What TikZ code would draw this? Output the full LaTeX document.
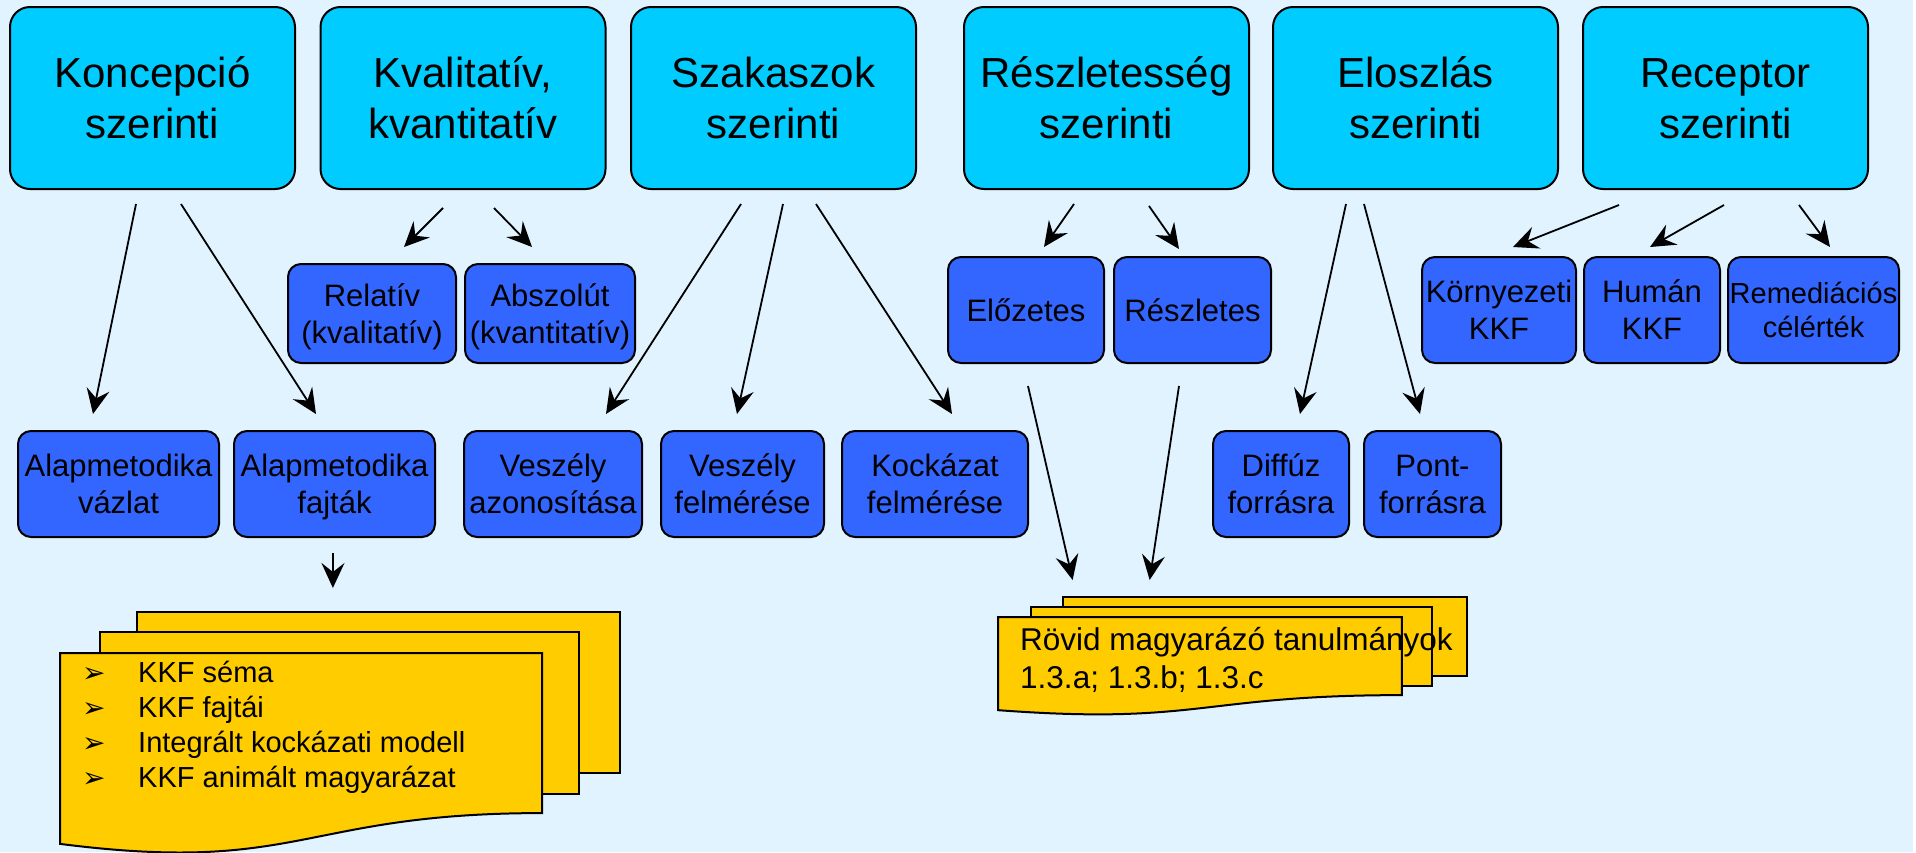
\documentclass[tikz,border=0pt]{standalone}
\usepackage{fontspec}
\setmainfont{Liberation Sans}
\newfontfamily\dejavu{DejaVu Sans}
\usetikzlibrary{arrows.meta,calc}
\definecolor{bgc}{RGB}{224,243,255}
\definecolor{topc}{RGB}{0,204,255}
\definecolor{midc}{RGB}{51,102,255}
\definecolor{docc}{RGB}{255,204,0}
\newcommand{\lbtwo}[2]{\raisebox{0pt}[\dimexpr0.716em+\baselineskip\relax][0pt]{\begin{tabular}[b]{@{}c@{}}#1\\#2\end{tabular}}}
\newcommand{\lbone}[1]{\raisebox{0pt}[0.716em][0pt]{#1}}
\newcommand{\bulx}{\makebox[56pt][l]{\dejavu\fontsize{28}{28}\selectfont ➢}}
\begin{document}
\begin{tikzpicture}[x=1pt,y=-1pt,
  topbox/.style={draw=black, line width=2pt, fill=topc, rounded corners=20pt,
    minimum width=285pt, minimum height=182pt, inner sep=0pt,
    font=\fontsize{42}{51}\selectfont},
  midbox/.style={draw=black, line width=2pt, fill=midc, rounded corners=13pt,
    minimum height=106pt, inner sep=0pt, font=\fontsize{31}{37}\selectfont},
  arr/.style={line width=1.8pt, -{Stealth[length=25pt,width=23pt,inset=9pt]}},
  docpage/.style={draw=black, line width=2pt, fill=docc}]
\useasboundingbox (0,0) rectangle (1916,852);
\fill[bgc] (0,0) rectangle (1913,852);

% top row
\node[topbox] (kon) at (152.5,98) {\lbtwo{Koncepció}{szerinti}};
\node[topbox] (kva) at (463,98) {\lbtwo{Kvalitatív,}{kvantitatív}};
\node[topbox] (sza) at (773.5,98) {\lbtwo{Szakaszok}{szerinti}};
\node[topbox] (res) at (1106.5,98) {\lbtwo{Részletesség}{szerinti}};
\node[topbox] (elo) at (1415.5,98) {\lbtwo{Eloszlás}{szerinti}};
\node[topbox] (rec) at (1725.5,98) {\lbtwo{Receptor}{szerinti}};

% middle row
\node[midbox, minimum width=168pt, minimum height=99pt] (rel) at (372,313.5) {\lbtwo{Relatív}{(kvalitatív)}};
\node[midbox, minimum width=170pt, minimum height=99pt] (abs) at (550,313.5) {\lbtwo{Abszolút}{(kvantitatív)}};
\node[midbox, minimum width=156pt] (ele) at (1026,310) {\lbone{Előzetes}};
\node[midbox, minimum width=157pt] (rsz) at (1192.5,310) {\lbone{Részletes}};
\node[midbox, minimum width=154pt] (kor) at (1499,310) {\lbtwo{Környezeti}{KKF}};
\node[midbox, minimum width=136pt] (hum) at (1652,310) {\lbtwo{Humán}{KKF}};
\node[midbox, minimum width=171pt, font=\fontsize{29}{34}\selectfont] (rem) at (1813.5,310) {\lbtwo{Remediációs}{célérték}};

% bottom row
\node[midbox, minimum width=201pt] (alv) at (118.5,484) {\lbtwo{Alapmetodika}{vázlat}};
\node[midbox, minimum width=201pt] (alf) at (334.5,484) {\lbtwo{Alapmetodika}{fajták}};
\node[midbox, minimum width=178pt] (vaz) at (553,484) {\lbtwo{Veszély}{azonosítása}};
\node[midbox, minimum width=163pt] (vfe) at (742.5,484) {\lbtwo{Veszély}{felmérése}};
\node[midbox, minimum width=186pt] (kfe) at (935,484) {\lbtwo{Kockázat}{felmérése}};
\node[midbox, minimum width=136pt] (dif) at (1281,484) {\lbtwo{Diffúz}{forrásra}};
\node[midbox, minimum width=137pt] (pon) at (1432.5,484) {\lbtwo{Pont-}{forrásra}};

% left document stack
\begin{scope}[shift={(60,612)}, xscale=560/216, yscale=241/216]
  \draw[docpage] (29.72,0) rectangle (216,144.3);
  \draw[docpage] (15.32,18.15) rectangle (200,163.3);
  \draw[docpage] (0,36.75) -- (185.95,36.75) -- (185.95,180.22)
     .. controls (92.98,180.22) and (92.98,235.42) .. (0,207.82) -- cycle;
  \coordinate (docL) at (122.8,0);
\end{scope}
% right document stack
\begin{scope}[shift={(998,597)}, xscale=469/216, yscale=117.6/216]
  \draw[docpage] (29.72,0) rectangle (216,144.3);
  \draw[docpage] (15.32,18.15) rectangle (200,163.3);
  \draw[docpage] (0,36.75) -- (185.95,36.75) -- (185.95,180.22)
     .. controls (92.98,180.22) and (92.98,235.42) .. (0,207.82) -- cycle;
  \coordinate (docR) at (122.8,0);
\end{scope}

\node[anchor=base west, inner sep=0pt, font=\fontsize{29}{35.3}\selectfont] (docLtxt) at (82,682)
  {\begin{tabular}[t]{@{}l@{}}\bulx KKF séma\\ \bulx KKF fajtái\\ \bulx Integrált kockázati modell\\ \bulx KKF animált magyarázat\end{tabular}};
\node[anchor=base west, inner sep=0pt, font=\fontsize{31.5}{38}\selectfont] (docRtxt) at (1020,650)
  {\begin{tabular}[t]{@{}l@{}}Rövid magyarázó tanulmányok\\1.3.a; 1.3.b; 1.3.c\end{tabular}};

% connectors
\draw[arr] ($(kon.south)+(-16.5,14)$) -- ($(alv.north)+(-25.5,-16)$);
\draw[arr] ($(kon.south)+(28.5,14)$) -- ($(alf.north)+(-18.5,-16)$);
\draw[arr] ($(kva.south)+(-20,18)$) -- ($(rel.north)+(32,-16)$);
\draw[arr] ($(kva.south)+(31,18)$) -- ($(abs.north)+(-18,-16)$);
\draw[arr] ($(sza.south)+(-32.5,14)$) -- ($(vaz.north)+(53,-16)$);
\draw[arr] ($(sza.south)+(9.5,14)$) -- ($(vfe.north)+(-5.5,-16)$);
\draw[arr] ($(sza.south)+(42.5,14)$) -- ($(kfe.north)+(17,-16)$);
\draw[arr] ($(res.south)+(-32.5,14)$) -- ($(ele.north)+(18,-9)$);
\draw[arr] ($(res.south)+(42.5,16)$) -- ($(rsz.north)+(-13.5,-7)$);
\draw[arr] ($(elo.south)+(-69.5,14)$) -- ($(dif.north)+(19,-16)$);
\draw[arr] ($(elo.south)+(-51.5,14)$) -- ($(pon.north)+(-12.5,-16)$);
\draw[arr] ($(rec.south)+(-106.5,15)$) -- ($(kor.north)+(14,-9)$);
\draw[arr] ($(rec.south)+(-1.5,15)$) -- ($(hum.north)+(-2,-9)$);
\draw[arr] ($(rec.south)+(73.5,15)$) -- ($(rem.north)+(16.5,-9)$);
\draw[arr] ($(alf.south)+(-1.5,15)$) -- ($(docL)+(-45.5,-24)$);
\draw[arr] ($(ele.south)+(2,22)$) -- ($(docR)+(-192,-17)$);
\draw[arr] ($(rsz.south)+(-13.5,22)$) -- ($(docR)+(-115,-17)$);
\end{tikzpicture}
\end{document}
